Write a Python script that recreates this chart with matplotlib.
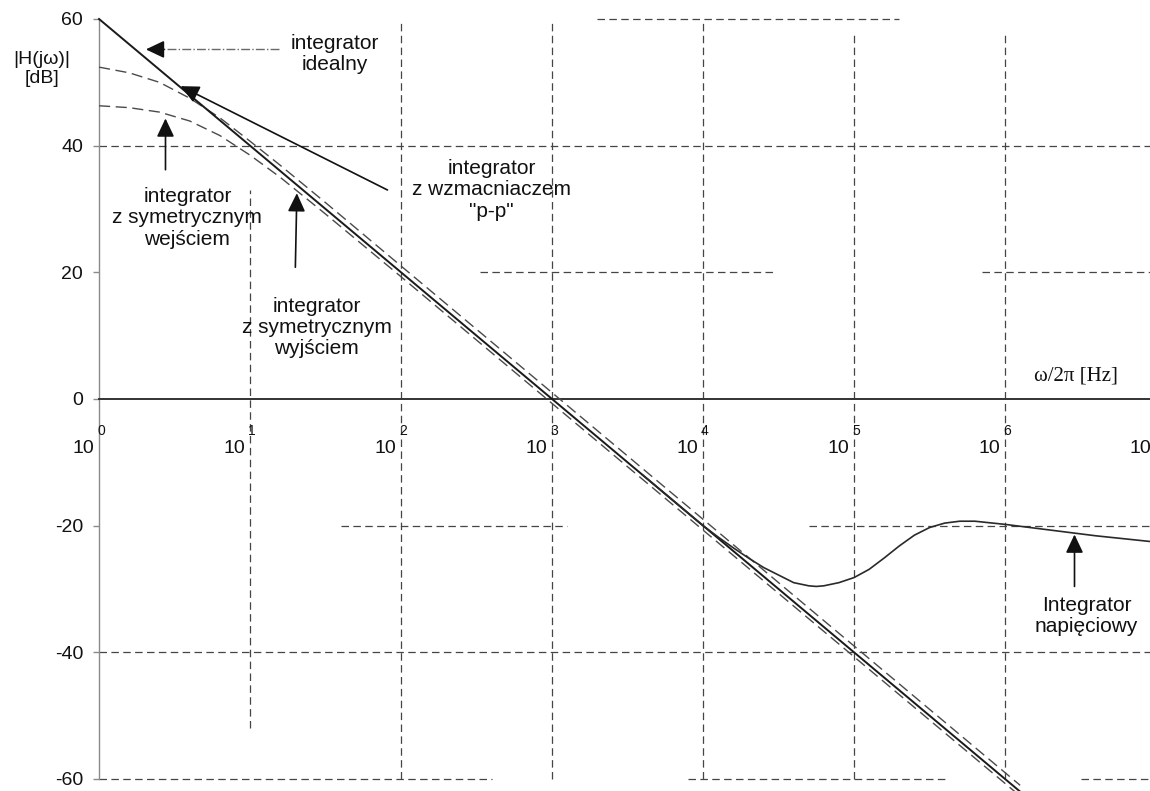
import numpy as np
import matplotlib
matplotlib.use("Agg")
import matplotlib.pyplot as plt
from matplotlib.transforms import offset_copy

plt.rcParams["font.family"] = ["Liberation Sans", "DejaVu Sans"]

# Magnitude responses: log10(f / Hz) and |H(jw)| in dB
ideal_dec = [0.0, 6.1]
ideal_db = [60.0, -62.0]

sym_in_dec = [0.0, 0.2, 0.4, 0.6, 0.8, 1.0, 1.2, 1.5, 2.0, 6.1]
sym_in_db = [46.3, 46.0, 45.3, 43.9, 41.6, 38.5, 35.0, 29.2, 19.3, -62.7]

sym_out_dec = [0.0, 0.2, 0.4, 0.6, 0.8, 1.0, 1.2, 1.5, 2.0, 6.1]
sym_out_db = [52.4, 51.5, 50.0, 47.5, 44.4, 40.7, 36.9, 31.0, 21.0, -61.0]

volt_dec = [3.6, 4.0, 4.1, 4.2, 4.3, 4.4, 4.5, 4.6, 4.7, 4.75, 4.8, 4.9, 5.0,
            5.1, 5.2, 5.3, 5.4, 5.5, 5.6, 5.7, 5.8, 6.0, 6.2, 6.4, 6.6, 6.8, 7.0]
volt_db = [-12.0, -20.0, -21.8, -23.5, -25.1, -26.6, -27.8, -29.0, -29.5, -29.6,
           -29.5, -29.0, -28.2, -26.9, -25.1, -23.2, -21.5, -20.3, -19.6, -19.3,
           -19.3, -19.8, -20.4, -21.0, -21.6, -22.1, -22.6]

y_ticks = [60, 40, 20, 0, -20, -40, -60]
x_decades = [0, 1, 2, 3, 4, 5, 6, 7]


def F(d):
    return np.power(10.0, d)


fig = plt.figure(figsize=(11.5, 7.91), dpi=100, facecolor="white")
ax = fig.add_axes([0, 0, 1, 1])
ax.set_xscale("log")
x_hi = 6.960
ax.set_xlim(F(-0.656), F(x_hi))
ax.set_ylim(-61.9, 63.0)
ax.set_facecolor("white")

# axes crossing at f = 1 Hz and 0 dB
for s in ("top", "right"):
    ax.spines[s].set_visible(False)
ax.spines["left"].set_position(("data", 1.0))
ax.spines["left"].set_bounds(-60, 60)
ax.spines["left"].set_color("#8a8a8a")
ax.spines["left"].set_linewidth(1.0)
ax.spines["bottom"].set_position(("data", 0.0))
ax.spines["bottom"].set_bounds(1, F(7))
ax.spines["bottom"].set_color("#333333")
ax.spines["bottom"].set_linewidth(1.4)

ax.set_yticks(y_ticks)
ax.set_yticklabels([str(v) for v in y_ticks])
ax.tick_params(axis="y", direction="out", length=4, width=1.0, color="#8a8a8a",
               pad=7.5, labelsize=14, labelcolor="#111111")
ax.xaxis.set_major_locator(matplotlib.ticker.NullLocator())
ax.xaxis.set_minor_locator(matplotlib.ticker.NullLocator())

# broken dashed grid
grid_kw = dict(color="#454545", lw=0.9, linestyle=(0, (6, 3.5)), zorder=1)
h_grid = {60: [(3.3, 5.3)], 40: [(0, 7)], 20: [(2.52, 4.46), (5.85, 7)],
          -20: [(1.6, 3.1), (4.7, 7)], -40: [(0, 7)],
          -60: [(0, 2.6), (3.9, 5.6), (6.5, 7)]}
v_grid = {1: (-52, 33), 2: (-60, 60), 3: (-60, 60), 4: (-60, 60),
          5: (-60, 58), 6: (-60, 58)}
for yv, segs in h_grid.items():
    for a, b in segs:
        ax.plot([F(a), F(b)], [yv, yv], **grid_kw)
for d, (lo, hi) in v_grid.items():
    ax.plot([F(d), F(d)], [lo, hi], **grid_kw)

# curves
ax.plot(F(np.array(ideal_dec)), ideal_db, color="#1a1a1a", lw=1.4, zorder=4)
ax.plot(F(np.array(sym_in_dec)), sym_in_db, color="#4a4a4a", lw=1.0,
        linestyle=(0, (8, 4)), zorder=3)
ax.plot(F(np.array(sym_out_dec)), sym_out_db, color="#4a4a4a", lw=1.0,
        linestyle=(0, (8, 4)), zorder=3)
ax.plot(F(np.array(volt_dec)), volt_db, color="#2a2a2a", lw=1.2, zorder=4)

# x tick labels: "10" with a small exponent sitting on the grid line
base_tr = offset_copy(ax.transData, fig=fig, x=-5, y=0, units="dots")
exp_tr = offset_copy(ax.transData, fig=fig, x=-2, y=0, units="dots")
for d in x_decades:
    ax.text(F(d), -7.8, "10", ha="right", va="center", fontsize=14,
            color="#111111", transform=base_tr)
    if d < x_hi:
        ax.text(F(d), -5.0, str(d), ha="left", va="center", fontsize=10,
                color="#111111", transform=exp_tr)

txt_kw = dict(ha="center", va="center", fontsize=15, color="#111111",
              linespacing=1.15, zorder=6)
ax.text(F(-0.377), 52.1, "|H(jω)|\n[dB]", ha="center", va="center",
        fontsize=14, color="#111111", linespacing=1.15)
ax.text(F(6.47), 3.6, "ω/2π [Hz]", ha="center", va="center", fontsize=15,
        color="#111111", family=["Liberation Serif", "DejaVu Serif"])
ax.text(F(1.56), 54.5, "integrator\nidealny", **txt_kw)
ax.text(F(2.60), 33.0, 'integrator\nz wzmacniaczem\n"p-p"', **txt_kw)
ax.text(F(0.585), 28.6, "integrator\nz symetrycznym\nwejściem", **txt_kw)
ax.text(F(1.44), 11.3, "integrator\nz symetrycznym\nwyjściem", **txt_kw)
ax.text(F(6.54), -34.3, "Integrator\nnapięciowy", **txt_kw)

arrow_kw = dict(arrowstyle="-|>,head_length=0.8,head_width=0.38",
                color="#111111", lw=1.2, shrinkA=0, shrinkB=0,
                mutation_scale=14)

# dash-dot leader for the ideal integrator
ax.plot([F(1.19), F(0.42)], [55.2, 55.2], color="#6a6a6a", lw=1.0,
        linestyle="-.", zorder=5)
ax.annotate("", xy=(F(0.31), 55.2), xytext=(F(0.43), 55.2),
            arrowprops=arrow_kw, zorder=6)
ax.annotate("", xy=(F(0.54), 49.4), xytext=(F(1.91), 33.0),
            arrowprops=arrow_kw, zorder=6)
ax.annotate("", xy=(F(0.44), 44.3), xytext=(F(0.44), 36.2),
            arrowprops=arrow_kw, zorder=6)
ax.annotate("", xy=(F(1.31), 32.5), xytext=(F(1.30), 20.8),
            arrowprops=arrow_kw, zorder=6)
ax.annotate("", xy=(F(6.46), -21.4), xytext=(F(6.46), -29.6),
            arrowprops=arrow_kw, zorder=6)

fig.savefig("out.png", dpi=100, facecolor="white")
